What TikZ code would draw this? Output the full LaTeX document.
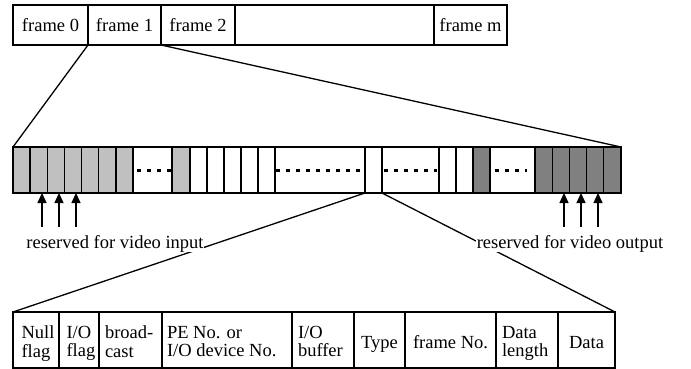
\documentclass[tikz,border=0pt]{standalone}
\usepackage{fontspec}
\setmainfont{Liberation Serif}
\usetikzlibrary{arrows.meta}
\definecolor{lgray}{RGB}{192,192,192}
\definecolor{dgray}{RGB}{128,128,128}
\begin{document}
\begin{tikzpicture}[x=1pt,y=-1pt,line width=1.3pt,
  every node/.style={font=\fontsize{18.5}{18.5}\selectfont,inner sep=0pt,outer sep=0pt},
  box/.style={draw},
  dots/.style={line width=3pt,dash pattern=on 4pt off 6pt},
  arr/.style={-{Triangle[length=10pt,width=9pt]},line width=1.3pt},
  lab/.style={fill=white,inner sep=0.5pt,anchor=base},
  txt/.style={anchor=base},
  mtxt/.style={anchor=north west,align=left}]
\useasboundingbox (0,0) rectangle (691,369);

% ---- top row of frames
\foreach \n/\a/\b/\t in {F0/13/88/frame 0,F1/88/161/frame 1,F2/161/235/frame 2,FX/235/434/,FM/434/507/frame m}
  \node[box,minimum width={\b-\a},minimum height=40pt] (\n) at ({(\a+\b)/2},25) {\t};

% ---- middle row
\node[box,minimum width=608pt,minimum height=46pt] (row) at (317,170) {};
\foreach \n/\a/\b/\c in {L1/13/30.14/lgray,L2/30.14/47.29/lgray,L3/47.29/64.43/lgray,L4/64.43/81.57/lgray,
    L5/81.57/98.71/lgray,L6/98.71/115.86/lgray,L7/115.86/133/lgray,
    L8/172/190/lgray,W1/190/207/white,W2/207/224/white,W3/224/241/white,W4/241/258/white,W5/258/275/white,
    sel/365/382/white,W6/439/456/white,W7/456/473/white,D0/473/490/dgray,
    D1/535/552.2/dgray,D2/552.2/569.4/dgray,D3/569.4/586.6/dgray,D4/586.6/603.8/dgray,D5/603.8/621/dgray}
  \node[box,fill=\c,minimum width={\b-\a},minimum height=46pt] (\n) at ({(\a+\b)/2},170) {};

\draw[dots] (137,170) -- (172,170);
\draw[dots] (276,170) -- (365,170);
\draw[dots] (384,170) -- (437,170);
\draw[dots] (495,170) -- (527,170);

% ---- zoom lines from frame 1
\draw (F1.south west) -- (row.north west);
\draw (F1.south east) -- (row.north east);

% ---- arrows for video in / out
\foreach \n/\x in {i1/42,i2/59,i3/76,o1/564,o2/581,o3/598}{
  \coordinate (\n) at (\x,227);
  \draw[arr] (\n) -- (\n |- row.south);
}

% ---- bottom table
\node[box,minimum width=602pt,minimum height=56pt] (tab) at (314,340) {};
\foreach \n/\a/\b in {B1/13/59,B2/59/99,B3/99/162,B4/162/292,B5/292/354,B6/354/405,B7/405/496,B8/496/558,B9/558/615}
  \node[box,minimum width={\b-\a},minimum height=56pt] (\n) at ({(\a+\b)/2},340) {};

\node[mtxt] (t1) at (21.5,326) {Null\\flag};
\node[mtxt] (t2) at (66.5,326) {I/O\\flag};
\node[mtxt] (t3) at (105,326) {broad-\\cast};
\node[mtxt] (t4) at (167,326) {PE No. or\\I/O device No.};
\node[mtxt] (t5) at (298,326) {I/O\\buffer};
\node[txt] (t6) at (B6.center |- 0,348) {Type};
\node[txt] (t7) at (B7.center |- 0,348) {frame No.};
\node[mtxt] (t8) at (502,326) {Data\\length};
\node[txt] (t9) at (B9.center |- 0,348) {Data};

% ---- zoom lines from the selected slot
\draw (sel.south west) -- (tab.north west);
\draw (sel.south east) -- (tab.north east);

\node[lab] (vin) at (115,248) {reserved for video input};
\node[lab] (vout) at (570,248) {reserved for video output};
\end{tikzpicture}
\end{document}
